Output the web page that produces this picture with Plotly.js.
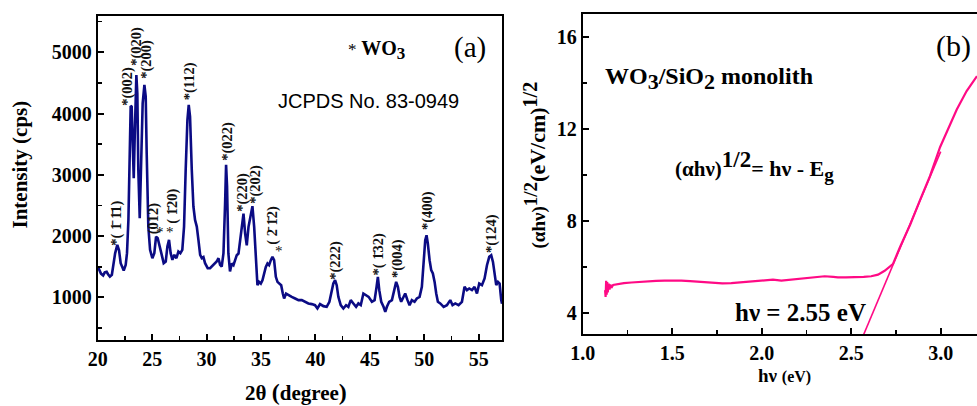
<!DOCTYPE html>
<html>
<head>
<meta charset="utf-8">
<script src="https://cdn.plot.ly/plotly-3.0.1.min.js"></script>
<style>html,body{margin:0;padding:0;overflow:hidden;background:#fff;}</style>
</head>
<body>
<div id="chart" style="width:977px;height:406px;"></div>
<script>
// ---- Panel (a): XRD pattern ----
const twoTheta = [20.0,20.1,20.3,20.5,20.65,20.82,20.95,21.12,21.3,21.44,21.6,21.8,21.96,22.11,22.26,22.39,22.57,22.69,22.82,22.94,23.03,23.12,23.21,23.31,23.4,23.49,23.55,23.64,23.73,23.86,23.98,24.13,24.29,24.41,24.5,24.65,24.81,25.02,25.2,25.36,25.51,25.73,25.88,26.06,26.25,26.4,26.55,26.7,26.86,27.04,27.23,27.41,27.59,27.77,27.93,28.08,28.24,28.36,28.48,28.64,28.79,28.94,29.1,29.25,29.41,29.56,29.71,29.86,30.1,30.32,30.63,30.93,31.09,31.24,31.39,31.55,31.7,31.79,31.88,32.0,32.15,32.31,32.47,32.62,32.77,32.93,33.08,33.24,33.39,33.54,33.69,33.85,34.06,34.21,34.37,34.52,34.67,34.82,34.98,35.13,35.28,35.44,35.59,35.74,35.9,36.05,36.2,36.36,36.51,36.69,36.85,37.0,37.12,37.3,37.52,37.82,38.13,38.44,38.74,39.05,39.35,39.66,39.96,40.18,40.42,40.73,41.03,41.28,41.49,41.64,41.8,41.95,42.1,42.32,42.56,42.81,43.02,43.24,43.48,43.73,43.94,44.16,44.4,44.65,44.88,45.18,45.43,45.61,45.73,45.86,46.04,46.25,46.41,46.56,46.77,47.02,47.26,47.41,47.57,47.72,47.87,48.09,48.24,48.45,48.64,48.85,49.1,49.31,49.56,49.77,49.96,50.08,50.2,50.32,50.48,50.63,50.78,50.94,51.09,51.24,51.46,51.77,52.07,52.38,52.59,52.84,53.14,53.45,53.69,53.91,54.12,54.37,54.61,54.83,55.04,55.29,55.53,55.75,55.96,56.14,56.3,56.45,56.6,56.76,56.91,57.06,57.13];
const intensity = [1490,1470,1390,1360,1410,1420,1380,1340,1370,1520,1720,1858,1770,1560,1500,1440,1530,1723,2266,3353,4125,4114,3353,2945,3625,4440,4630,4331,3081,2293,3081,4168,4467,4277,3353,2157,1777,1641,1723,1994,1967,1831,1696,1560,1587,1831,1940,1723,1614,1696,1641,1750,1723,1777,2157,3081,3897,4141,3951,3081,2484,2266,2157,1940,1696,1641,1658,1560,1478,1478,1532,1587,1641,1532,1505,1723,2538,3163,2810,1723,1424,1554,1527,1609,1690,1717,1934,2152,2369,2043,1850,2152,2369,2489,2152,1609,1201,1255,1228,1282,1391,1500,1554,1527,1609,1663,1609,1337,1255,1228,1201,1065,984,1065,1038,1011,984,957,957,930,903,892,875,821,892,859,848,930,1093,1228,1282,1201,1011,875,821,875,848,957,903,848,903,875,1065,1038,1011,930,957,1174,1337,1120,930,848,767,848,930,957,1120,1255,1174,1011,930,1011,1065,957,875,957,930,984,1011,1174,1609,1934,2016,1880,1609,1446,1391,1255,1065,930,903,848,875,957,875,903,875,930,1174,1120,1147,1120,1174,1065,1228,1201,1310,1527,1663,1690,1581,1337,1201,1255,1228,957,900];

// peak labels: text, 2theta position, intensity position (bottom of label)
const peakLabels = ["*(\u00a01\u0304\u00a01\u03041)","*(002)","*(020)","*(200)","(012)","(\u00a01\u030420)","*(220)","*(112)","*(022)","*(202)","(\u00a02\u0304\u00a01\u03042)","*(222)","*(\u00a01\u030432)","*(004)","*(400)","*(124)"];
const peakX = [21.77,22.78,23.61,24.53,25.08,26.92,33.35,28.39,31.98,34.55,36.11,41.9,45.76,47.6,50.27,56.15];
const peakY = [1837,4120,4756,4544,2016,2179,2375,4202,3207,2505,1837,1266,1347,1298,2081,1706];
const starX = [25.73,26.65,36.66];
const starY = [1918,1918,1608];

// ---- Panel (b): Tauc plot ----
const hv = [1.125,1.128,1.131,1.134,1.137,1.14,1.145,1.15,1.155,1.16,1.17,1.197,1.23,1.272,1.32,1.365,1.41,1.458,1.5,1.551,1.6,1.644,1.69,1.737,1.78,1.83,1.88,1.923,1.97,2.017,2.063,2.11,2.16,2.203,2.25,2.296,2.352,2.4,2.426,2.47,2.52,2.57,2.612,2.65,2.687,2.733,2.773,2.83,2.884,2.94,2.997,3.04,3.09,3.145,3.19,3.203];
const tauc = [5.0,4.7,5.4,4.8,5.35,4.9,5.28,5.02,5.24,5.1,5.22,5.26,5.3,5.33,5.36,5.38,5.4,5.41,5.42,5.41,5.39,5.37,5.33,5.3,5.29,5.3,5.33,5.37,5.4,5.41,5.45,5.41,5.45,5.48,5.52,5.55,5.6,5.57,5.55,5.55,5.55,5.57,5.6,5.67,5.84,6.13,6.87,7.85,8.9,9.95,11.22,12.0,12.85,13.65,14.19,14.3];
const fitX = [2.55, 3.0];
const fitY = [2.7, 11.02];

const lblFont = {family:'Liberation Serif', size:20, color:'#000', weight:'bold'};
function P(X, Y){ return {xref:'paper', yref:'paper', x:X/977, y:1-Y/406}; }

const annotations = [];
peakLabels.forEach((t,i)=>{
  annotations.push({xref:'x', yref:'y', x:peakX[i], y:peakY[i], text:t, textangle:-90, showarrow:false,
    xanchor:'center', yanchor:'bottom', borderpad:0,
    font:{family:'Liberation Serif', size:14.5, color:'#111', weight:'bold'}});
});
starX.forEach((x,i)=>{
  annotations.push({xref:'x', yref:'y', x:x, y:starY[i], text:'*', showarrow:false,
    xanchor:'center', yanchor:'bottom', borderpad:0,
    font:{family:'Liberation Serif', size:15, color:'#111'}});
});
function addText(X, Y, text, font, extra){
  annotations.push(Object.assign(P(X,Y), {text:text, showarrow:false, xanchor:'center', yanchor:'middle', font:font}, extra||{}));
}
// panel a texts
addText(19.5, 165, 'Intensity (cps)', {family:'Liberation Serif', size:21, color:'#000', weight:'bold'}, {textangle:-90});
addText(296, 392, "2θ <span style='font-size:24px'>(</span>degree<span style='font-size:24px'>)</span>", {family:'Liberation Serif', size:21, color:'#000', weight:'bold'});
addText(376, 50, "<span style='font-size:17px;font-weight:normal'>*</span> WO<sub><span style='font-size:17px'>3</span></sub>", {family:'Liberation Serif', size:20, color:'#000', weight:'bold'});
addText(470, 48, '(a)', {family:'Liberation Serif', size:29, color:'#000'});
addText(368, 101, 'JCPDS No. 83-0949', {family:'Liberation Sans', size:20, color:'#000'});
// panel b texts
addText(603, 78, "WO<sub><span style='font-size:22px'>3</span></sub>/SiO<sub><span style='font-size:22px'>2</span></sub> monolith", {family:'Liberation Serif', size:24, color:'#000', weight:'bold'}, {xanchor:'left'});
addText(673, 166, "<span style='font-size:21px'>(αhν)</span><sup><span style='font-size:23px'>1/2</span></sup>= hν - E<sub><span style='font-size:19px'>g</span></sub>", {family:'Liberation Serif', size:22, color:'#000', weight:'bold'}, {xanchor:'left'});
addText(800, 312, 'hν = 2.55 eV', {family:'Liberation Serif', size:25, color:'#000', weight:'bold'});
addText(953, 46, '(b)', {family:'Liberation Serif', size:30, color:'#000'});
addText(784, 375, "hν <span style='font-size:16px'>(eV)</span>", {family:'Liberation Serif', size:19, color:'#000', weight:'bold'});
addText(534, 251, "<span style='font-size:19px'>(αhν)</span><sup><span style='font-size:19px'>1/2</span></sup><span style='font-size:22px'>(eV/cm)</span><sup><span style='font-size:20px'>1/2</span></sup>", {family:'Liberation Serif', size:21, color:'#000', weight:'bold'}, {textangle:-90, yanchor:'bottom'});

const axBase = {showline:true, linewidth:2, linecolor:'#000', ticks:'inside', ticklen:6, tickwidth:2, tickcolor:'#000',
  showgrid:false, zeroline:false, tickfont:lblFont};

const traces = [
  {x:twoTheta, y:intensity, type:'scatter', mode:'lines', xaxis:'x', yaxis:'y', line:{color:'#0b0b84', width:2.6}, hoverinfo:'skip'},
  {x:hv, y:tauc, type:'scatter', mode:'lines', xaxis:'x2', yaxis:'y2', line:{color:'#ff0a85', width:2.2}, hoverinfo:'skip'},
  {x:fitX, y:fitY, type:'scatter', mode:'lines', xaxis:'x2', yaxis:'y2', line:{color:'#ff0a85', width:1.6}, hoverinfo:'skip'}
];

const layout = {
  width:977, height:406, margin:{l:0,r:0,t:0,b:0}, showlegend:false,
  paper_bgcolor:'#fff', plot_bgcolor:'#fff',
  xaxis:Object.assign({}, axBase, {domain:[97.7/977, 502/977], range:[20,57.13], tick0:20, dtick:5, mirror:true, anchor:'y',
    minor:{ticks:'inside', dtick:2.5, ticklen:4, tickwidth:1.5, tickcolor:'#000'}}),
  yaxis:Object.assign({}, axBase, {domain:[0.1626,0.9606], range:[307,5592], tick0:0, dtick:1000, mirror:true, anchor:'x',
    minor:{ticks:'inside', dtick:500, ticklen:4, tickwidth:1.5, tickcolor:'#000'}}),
  xaxis2:Object.assign({}, axBase, {domain:[582.7/977, 1], range:[1.0,3.203], tick0:1, dtick:0.5, tickformat:'.1f', mirror:true, anchor:'y2',
    minor:{ticks:'inside', dtick:0.25, ticklen:4, tickwidth:1.5, tickcolor:'#000'}}),
  yaxis2:Object.assign({}, axBase, {domain:[0.1773,0.9655], range:[3.09,17], tick0:0, dtick:4, mirror:false, anchor:'x2',
    minor:{ticks:'inside', dtick:2, ticklen:4, tickwidth:1.5, tickcolor:'#000'}}),
  annotations:annotations
};

Plotly.newPlot('chart', traces, layout, {displayModeBar:false, staticPlot:true});
</script>
</body>
</html>
